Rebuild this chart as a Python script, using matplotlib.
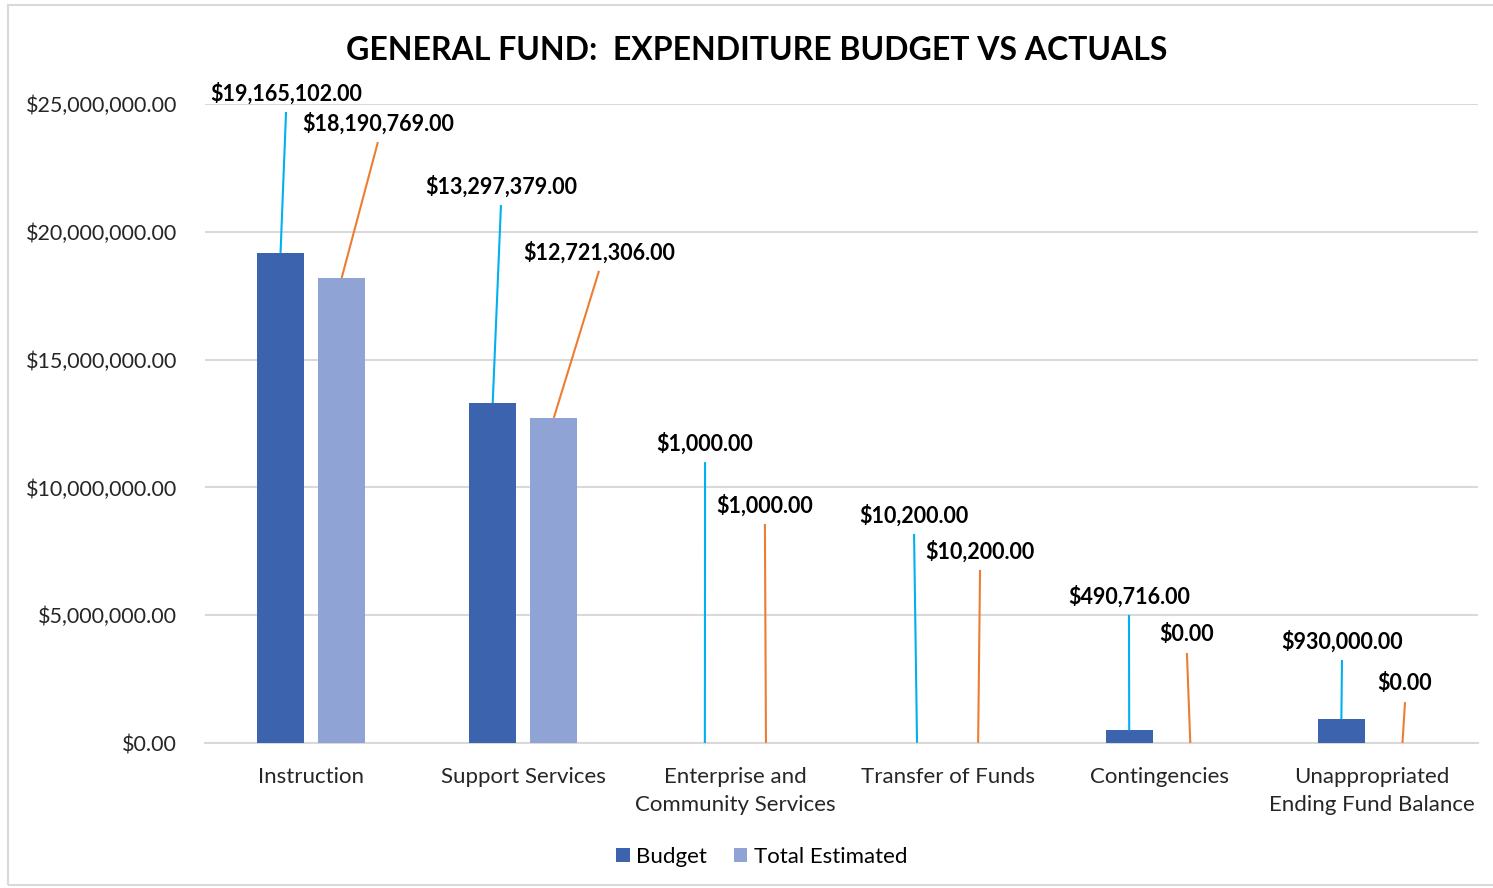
import matplotlib.pyplot as plt
from matplotlib.patches import Rectangle
import numpy as np

plt.rcParams['font.family'] = ['Lato', 'DejaVu Sans']

categories = ["Instruction", "Support Services", "Enterprise and\nCommunity Services",
              "Transfer of Funds", "Contingencies", "Unappropriated\nEnding Fund Balance"]
budget = [19165102, 13297379, 1000, 10200, 490716, 930000]
estimated = [18190769, 12721306, 1000, 10200, 0, 0]

# where each data label sits (x in category units, y in dollars)
budget_label_pos = [(-0.118, 24.69e6), (0.895, 21.05e6), (1.857, 10.99e6),
                    (2.842, 8.18e6), (3.855, 5.01e6), (4.859, 3.25e6)]
estimated_label_pos = [(0.315, 23.51e6), (1.357, 18.47e6), (2.139, 8.57e6),
                       (3.153, 6.77e6), (4.128, 3.52e6), (5.156, 1.60e6)]

BUDGET_COLOR = '#3C64AE'
EST_COLOR = '#8FA4D4'
BUDGET_LINE = '#00B0F0'
EST_LINE = '#ED7D31'
GRID = '#D9D9D9'

fig = plt.figure(figsize=(14.93, 8.88), dpi=100)
ax = fig.add_axes([205 / 1493, 1 - 743 / 888, 1273 / 1493, 639 / 888])

# chart border
fig.patches.append(Rectangle((8 / 1493, 1 - 885 / 888), 1490 / 1493, 880 / 888,
                             transform=fig.transFigure, fill=False,
                             edgecolor=GRID, linewidth=1.5))

x = np.arange(len(categories))
off = 0.144
w = 0.222
ax.bar(x - off, budget, width=w, color=BUDGET_COLOR, label='Budget', zorder=3)
ax.bar(x + off, estimated, width=w, color=EST_COLOR, label='Total Estimated', zorder=3)

def money(v):
    return f"${v:,.2f}"

for i in range(len(categories)):
    for vals, pos, lc, o in ((budget, budget_label_pos, BUDGET_LINE, -off),
                             (estimated, estimated_label_pos, EST_LINE, off)):
        lx, ly = pos[i]
        ax.plot([lx, i + o], [ly, vals[i]], color=lc, linewidth=1.5, zorder=4,
                solid_capstyle='butt', clip_on=False)
        ax.annotate(money(vals[i]), xy=(lx, ly), xytext=(0, 13.5),
                    textcoords='offset points', ha='center', va='center',
                    fontsize=15.5, fontweight='bold', annotation_clip=False)

ax.set_xlim(-0.5, len(categories) - 0.5)
ax.set_ylim(0, 25e6)
ax.set_yticks(np.arange(0, 25e6 + 1, 5e6))
ax.set_yticklabels([money(v) for v in np.arange(0, 25e6 + 1, 5e6)])
ax.set_xticks(x)
ax.set_xticklabels(categories, linespacing=1.5, fontsize=16)
ax.tick_params(axis='both', length=0, colors='#262626')
ax.tick_params(axis='y', labelsize=15.5, pad=20)
ax.tick_params(axis='x', pad=17)
ax.grid(axis='y', color=GRID, linewidth=1.5, zorder=0)
for s in ('top', 'right', 'left'):
    ax.spines[s].set_visible(False)
ax.spines['bottom'].set_color(GRID)
ax.spines['bottom'].set_linewidth(1.5)

fig.text(757 / 1493, 1 - 50 / 888, "GENERAL FUND:  EXPENDITURE BUDGET VS ACTUALS",
         ha='center', va='center', fontsize=23, fontweight='bold')

fig.legend(loc='center', bbox_to_anchor=(762 / 1493, 1 - 857 / 888), ncol=2,
           frameon=False, fontsize=16, handlelength=0.6, handleheight=0.6,
           handletextpad=0.3, columnspacing=1.2)

fig.savefig('out.png', dpi=100)
